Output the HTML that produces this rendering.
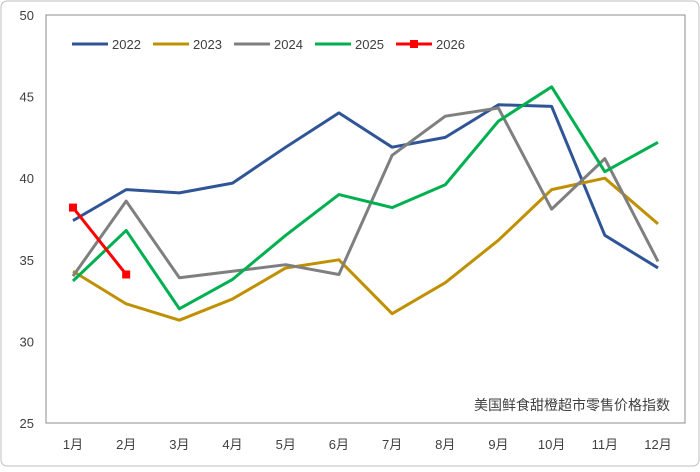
<!DOCTYPE html>
<html><head><meta charset="utf-8"><style>
body{margin:0;background:#fff;}
svg text{font-family:"Liberation Sans","Noto Sans CJK SC",sans-serif;}
</style></head><body>
<svg id="chart" width="700" height="467" xmlns="http://www.w3.org/2000/svg">
<rect x="1" y="1" width="698" height="465" rx="6" fill="#fff" stroke="#bfbfbf"/>
<rect x="46" y="15" width="639" height="408" fill="none" stroke="#8c8c8c"/>
<g id="yaxis"></g>
<g id="xaxis"></g>
<g id="series"></g>
<g id="legend"></g>
<text x="670" y="410" text-anchor="end" font-size="14" fill="#404040">美国鲜食甜橙超市零售价格指数</text>
</svg>
<script>
const categories=["1月","2月","3月","4月","5月","6月","7月","8月","9月","10月","11月","12月"];
const yTicks=[25,30,35,40,45,50];
const seriesNames=["2022","2023","2024","2025","2026"];
const s2022=[37.4,39.3,39.1,39.7,41.9,44.0,41.9,42.5,44.5,44.4,36.5,34.5];
const s2023=[34.3,32.3,31.3,32.6,34.5,35.0,31.7,33.6,36.2,39.3,40.0,37.2];
const s2024=[34.0,38.6,33.9,34.3,34.7,34.1,41.4,43.8,44.3,38.1,41.2,34.9];
const s2025=[33.7,36.8,32.0,33.8,36.5,39.0,38.2,39.6,43.5,45.6,40.4,42.2];
const s2026=[38.2,34.1];
const NS="http://www.w3.org/2000/svg";
const colors=["#2F5597","#BF9000","#7F7F7F","#00B050","#FF0000"];
const x=i=>73+i*(658-73)/11;
const y=v=>423-(v-25)*408/25;
function mk(tag,attrs,parent){const e=document.createElementNS(NS,tag);for(const k in attrs)e.setAttribute(k,attrs[k]);parent.appendChild(e);return e;}
const ya=document.getElementById('yaxis');
yTicks.forEach(t=>{const e=mk('text',{x:34,y:y(t)+5,'text-anchor':'end','font-size':13,fill:'#404040'},ya);e.textContent=t;

});
const xa=document.getElementById('xaxis');
categories.forEach((c,i)=>{const e=mk('text',{x:x(i),y:449,'text-anchor':'middle','font-size':13,fill:'#404040'},xa);e.textContent=c;

});
const sg=document.getElementById('series');
[s2022,s2023,s2024,s2025,s2026].forEach((d,k)=>{
const p=mk('polyline',{points:d.map((v,i)=>x(i)+','+y(v)).join(' '),fill:'none',stroke:colors[k],'stroke-width':3,'stroke-linejoin':'round'},sg);


if(k===4)d.forEach((v,i)=>{const r=mk('rect',{x:x(i)-4,y:y(v)-4,width:8,height:8,fill:colors[k]},sg);

});
});
const lg=document.getElementById('legend');
seriesNames.forEach((n,k)=>{const lx=72+k*81;
const l=mk('line',{x1:lx,y1:44,x2:lx+36,y2:44,stroke:colors[k],'stroke-width':3},lg);


if(k===4){const r=mk('rect',{x:lx+14,y:40,width:8,height:8,fill:colors[k]},lg);}
const t=mk('text',{x:lx+40,y:49,'font-size':13,fill:'#404040'},lg);t.textContent=n;

});
</script>
</body></html>
